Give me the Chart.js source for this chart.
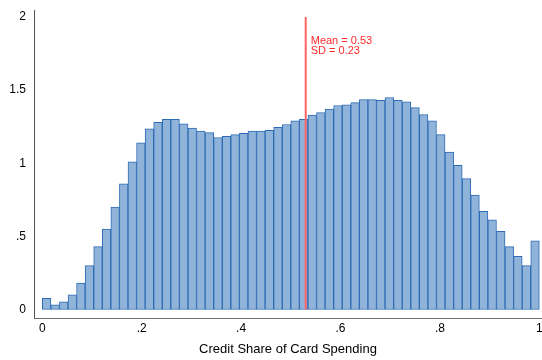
<!DOCTYPE html>
<html>
<head>
<meta charset="utf-8">
<script src="https://cdn.jsdelivr.net/npm/chart.js@4/dist/chart.umd.min.js"></script>
<style>
  body { margin: 0; background: #fff; }
  #histChart { display: block; }
</style>
</head>
<body>
<canvas id="histChart" width="542" height="360"></canvas>
<script>
// density of credit share, 58 equal bins on [0, 1]
const densities = [
  0.077, 0.032, 0.053, 0.10, 0.18, 0.30, 0.43, 0.55, 0.70, 0.86,
  1.01, 1.14, 1.235, 1.28, 1.30, 1.30, 1.27, 1.24, 1.22, 1.21,
  1.176, 1.185, 1.196, 1.205, 1.22, 1.22, 1.226, 1.245, 1.265, 1.29,
  1.30, 1.33, 1.347, 1.37, 1.395, 1.40, 1.415, 1.435, 1.435, 1.43,
  1.45, 1.43, 1.42, 1.38, 1.333, 1.29, 1.196, 1.077, 0.986, 0.895,
  0.783, 0.671, 0.614, 0.534, 0.43, 0.363, 0.30, 0.47
];
const binWidth = 1 / densities.length;
const xTicks = [0, 0.2, 0.4, 0.6, 0.8, 1];
const yTicks = [0, 0.5, 1, 1.5, 2];
const meanShare = 0.53;
const sdShare = 0.23;
const meanLineSpan = [0, 2];
const statLines = ['Mean = ' + meanShare.toFixed(2), 'SD = ' + sdShare.toFixed(2)];

// stata style labels: drop the leading zero
function fmtTick(v) {
  if (v === 0) return '0';
  return String(+v.toFixed(2)).replace(/^0\./, '.');
}

const statText = {
  id: 'statText',
  afterDatasetsDraw(chart) {
    const ctx = chart.ctx;
    const x = chart.scales.x.getPixelForValue(meanShare) + 5;
    let y = chart.scales.y.getPixelForValue(1.875);
    ctx.save();
    ctx.fillStyle = '#ff2a2a';
    ctx.font = '11px "Liberation Sans", Arial, sans-serif';
    ctx.textBaseline = 'top';
    statLines.forEach(t => { ctx.fillText(t, x, y); y += 10.5; });
    ctx.restore();
  }
};

function setupChart() {
  let ctx = document.getElementById('histChart');
  new Chart(ctx, {
    type: 'bar',
    data: {
      datasets: [{
        type: 'line',
        order: 0,
        data: meanLineSpan.map(v => ({x: meanShare, y: v})),
        borderColor: '#ff6464',
        borderWidth: 2,
        pointRadius: 0,
        fill: false
      }, {
        order: 1,
        data: densities.map((d, i) => ({x: (i + 0.5) * binWidth, y: d})),
        backgroundColor: '#8fb3d9',
        borderColor: '#2d6bb5',
        borderWidth: 1,
        borderSkipped: false,
        barPercentage: 1,
        categoryPercentage: 1,
        grouped: false
      }]
    },
    options: {
      responsive: false,
      animation: false,
      layout: { padding: { top: 10, right: 0, bottom: 0, left: 0 } },
      plugins: { legend: { display: false }, tooltip: { enabled: false } },
      scales: {
        x: {
          type: 'linear',
          offset: false,
          min: -0.0167,
          max: 1.0054,
          afterBuildTicks: s => { s.ticks = xTicks.map(v => ({value: v})); },
          afterFit: s => { s.height = 42; s.paddingLeft = 0; s.paddingRight = 0; },
          grid: { display: false, drawTicks: false },
          border: { display: true, color: '#6e6e6e', width: 1 },
          ticks: {
            padding: 3,
            color: '#000',
            maxRotation: 0,
            autoSkip: false,
            font: { family: '"Liberation Sans", Arial, sans-serif', size: 12 },
            callback: v => fmtTick(v)
          },
          title: {
            display: true,
            text: 'Credit Share of Card Spending',
            color: '#000',
            padding: { top: 0, bottom: 3 },
            font: { family: '"Liberation Sans", Arial, sans-serif', size: 13 }
          }
        },
        y: {
          min: -0.058,
          max: 2.048,
          afterBuildTicks: s => { s.ticks = yTicks.map(v => ({value: v})); },
          afterFit: s => { s.width = 34; s.paddingTop = 0; s.paddingBottom = 0; },
          grid: { display: false, drawTicks: false },
          border: { display: true, color: '#555', width: 1 },
          ticks: {
            padding: 8,
            color: '#000',
            autoSkip: false,
            font: { family: '"Liberation Sans", Arial, sans-serif', size: 12 },
            callback: v => fmtTick(v)
          }
        }
      }
    },
    plugins: [statText]
  });
}

setupChart();
</script>
</body>
</html>
